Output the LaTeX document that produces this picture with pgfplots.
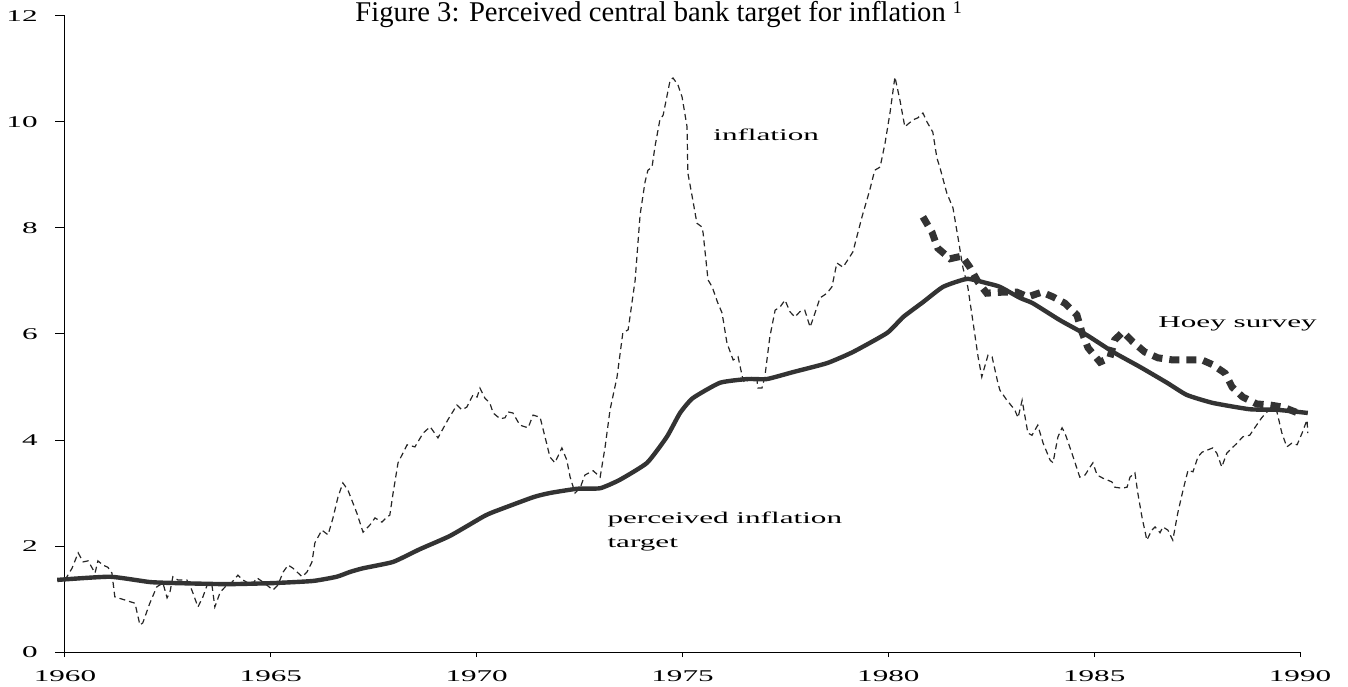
\documentclass[border=0pt]{standalone}
\usepackage{fontspec}
\setmainfont{Liberation Serif}
\newfontfamily\chartfont[FakeStretch=1.9]{Liberation Serif}
\usepackage{pgfplots}
\pgfplotsset{compat=1.18}
\definecolor{dk}{HTML}{333333}
\begin{document}
\begin{tikzpicture}
\path[use as bounding box] (-32.5pt,-17pt) rectangle (641.5pt,326pt);
\begin{axis}[
  at={(0,0)}, anchor=south west,
  width=617.5pt, height=318pt, scale only axis,
  xmin=1960, xmax=1990, ymin=0, ymax=12,
  enlargelimits=false, clip=false,
  axis x line=bottom, axis y line=left,
  axis line style={-, black, line width=0.5pt},
  xtick={1960,1965,...,1990}, ytick={0,2,...,12},
  minor tick num=0,
  tick align=outside,
  major tick length=5pt,
  tick style={black, line width=0.5pt},
  xtick style={/pgfplots/major tick length=2.5pt},
  /pgf/number format/assume math mode=true,
  /pgf/number format/1000 sep={},
  tick label style={font=\chartfont\fontsize{8.2}{10}\selectfont},
  yticklabel style={anchor=east, inner sep=0pt, xshift=-8.5pt},
  xticklabel style={anchor=north, inner sep=0pt, yshift=-4pt},
]
\addplot[black!85, line width=0.6pt, dash pattern=on 3pt off 2pt] coordinates {
(1960.00,1.36)(1960.17,1.58)(1960.32,1.87)(1960.44,1.70)(1960.56,1.72)(1960.73,1.49)(1960.80,1.72)(1960.92,1.64)
(1961.04,1.60)(1961.14,1.49)(1961.21,1.04)(1961.46,0.98)(1961.70,0.92)(1961.82,0.51)(1961.89,0.55)(1962.06,0.92)
(1962.23,1.23)(1962.38,1.30)(1962.48,1.02)(1962.55,1.13)(1962.62,1.42)(1962.74,1.36)(1962.96,1.36)(1963.08,1.17)
(1963.23,0.85)(1963.35,1.04)(1963.47,1.30)(1963.57,1.26)(1963.64,0.85)(1963.77,1.13)(1963.93,1.26)(1964.06,1.32)
(1964.20,1.45)(1964.32,1.36)(1964.54,1.26)(1964.66,1.40)(1964.81,1.32)(1965.05,1.17)(1965.17,1.26)(1965.30,1.51)
(1965.42,1.64)(1965.54,1.58)(1965.76,1.42)(1965.88,1.51)(1966.00,1.70)(1966.07,2.06)(1966.24,2.30)(1966.39,2.21)
(1966.51,2.53)(1966.63,2.92)(1966.75,3.19)(1966.87,3.06)(1967.09,2.62)(1967.24,2.26)(1967.41,2.40)(1967.53,2.53)
(1967.70,2.45)(1967.82,2.55)(1967.89,2.58)(1967.97,3.00)(1968.09,3.57)(1968.31,3.91)(1968.50,3.87)(1968.70,4.13)
(1968.87,4.25)(1969.06,4.04)(1969.30,4.38)(1969.52,4.66)(1969.64,4.57)(1969.76,4.62)(1969.91,4.85)(1970.01,4.81)
(1970.08,4.98)(1970.20,4.79)(1970.32,4.70)(1970.40,4.51)(1970.57,4.40)(1970.69,4.42)(1970.76,4.53)(1970.88,4.51)
(1971.05,4.28)(1971.25,4.23)(1971.37,4.47)(1971.54,4.43)(1971.66,4.06)(1971.78,3.68)(1971.90,3.57)(1972.07,3.85)
(1972.19,3.62)(1972.27,3.30)(1972.39,3.00)(1972.51,3.09)(1972.63,3.34)(1972.83,3.42)(1973.00,3.30)(1973.12,3.87)
(1973.24,4.57)(1973.41,5.19)(1973.55,6.02)(1973.68,6.08)(1973.85,7.02)(1973.97,8.25)(1974.09,8.87)(1974.16,9.09)
(1974.26,9.15)(1974.33,9.53)(1974.45,10.04)(1974.53,10.13)(1974.70,10.79)(1974.77,10.83)(1974.89,10.70)(1974.99,10.47)
(1975.11,9.91)(1975.13,9.04)(1975.25,8.53)(1975.35,8.09)(1975.47,8.02)(1975.50,7.91)(1975.62,7.02)(1975.72,6.89)
(1975.86,6.58)(1975.96,6.40)(1976.08,5.83)(1976.23,5.51)(1976.35,5.57)(1976.47,5.13)(1976.52,5.08)(1976.69,5.19)
(1976.81,5.13)(1976.83,4.98)(1976.93,4.98)(1977.00,5.19)(1977.12,5.94)(1977.25,6.45)(1977.37,6.51)(1977.49,6.64)
(1977.61,6.42)(1977.73,6.32)(1977.85,6.42)(1977.97,6.45)(1978.10,6.13)(1978.22,6.40)(1978.34,6.68)(1978.51,6.77)
(1978.63,6.89)(1978.75,7.34)(1978.90,7.26)(1979.14,7.55)(1979.36,8.21)(1979.55,8.72)(1979.67,9.09)(1979.80,9.15)
(1979.92,9.60)(1980.04,10.17)(1980.16,10.85)(1980.28,10.42)(1980.40,9.91)(1980.60,10.04)(1980.72,10.08)(1980.84,10.17)
(1980.94,10.00)(1981.08,9.81)(1981.18,9.32)(1981.25,9.15)(1981.42,8.66)(1981.57,8.38)(1981.69,7.83)(1981.81,7.26)
(1981.93,6.89)(1982.05,6.26)(1982.18,5.57)(1982.27,5.19)(1982.42,5.60)(1982.52,5.57)(1982.66,5.08)(1982.71,4.94)
(1982.88,4.75)(1983.07,4.57)(1983.15,4.42)(1983.25,4.75)(1983.39,4.13)(1983.49,4.09)(1983.63,4.28)(1983.76,3.94)
(1983.93,3.62)(1984.00,3.57)(1984.12,4.06)(1984.22,4.23)(1984.29,4.13)(1984.46,3.75)(1984.65,3.30)(1984.78,3.34)
(1984.90,3.49)(1984.97,3.57)(1985.07,3.34)(1985.21,3.28)(1985.43,3.21)(1985.50,3.11)(1985.67,3.09)(1985.80,3.11)
(1985.87,3.30)(1985.99,3.38)(1986.06,3.00)(1986.16,2.55)(1986.28,2.11)(1986.40,2.30)(1986.48,2.36)(1986.60,2.25)
(1986.67,2.36)(1986.79,2.30)(1986.91,2.11)(1987.03,2.62)(1987.16,3.06)(1987.28,3.43)(1987.40,3.40)(1987.52,3.68)
(1987.62,3.77)(1987.88,3.85)(1987.98,3.75)(1988.10,3.49)(1988.22,3.75)(1988.35,3.85)(1988.47,3.94)(1988.54,4.00)
(1988.61,4.06)(1988.78,4.09)(1988.90,4.23)(1989.07,4.42)(1989.20,4.53)(1989.32,4.60)(1989.44,4.53)(1989.56,4.13)
(1989.68,3.87)(1989.80,3.94)(1989.93,3.91)(1990.05,4.13)(1990.17,4.38)(1990.19,4.13)
};
\addplot[dk, line width=2.2pt, smooth, tension=0.3] coordinates {
(1959.81,1.36)(1961.09,1.42)(1962.06,1.32)(1962.72,1.30)(1963.93,1.28)(1965.05,1.30)(1966.02,1.34)(1966.60,1.42)
(1966.92,1.51)(1967.24,1.58)(1967.97,1.70)(1968.62,1.94)(1969.35,2.19)(1970.15,2.55)(1970.40,2.64)(1971.37,2.92)
(1971.78,3.00)(1972.44,3.08)(1973.00,3.09)(1973.48,3.25)(1974.14,3.57)(1974.62,4.06)(1974.94,4.51)(1975.25,4.79)
(1975.91,5.08)(1976.57,5.15)(1977.05,5.15)(1977.68,5.28)(1978.51,5.45)(1979.14,5.66)(1979.97,6.02)(1980.36,6.32)
(1980.84,6.60)(1981.33,6.89)(1981.91,7.04)(1982.39,6.96)(1982.71,6.89)(1983.20,6.68)(1983.51,6.58)(1984.17,6.26)
(1984.82,5.98)(1985.46,5.66)(1986.11,5.38)(1986.77,5.08)(1987.25,4.85)(1987.88,4.70)(1988.78,4.58)(1989.44,4.57)
(1990.19,4.51)
};
\addplot[dk, line width=3.5pt, dash pattern=on 5pt off 3.5pt] coordinates {
(1980.84,8.21)(1981.06,7.92)(1981.20,7.62)(1981.50,7.42)(1981.79,7.47)(1981.98,7.26)(1982.18,6.98)(1982.39,6.77)
(1982.78,6.79)(1983.12,6.79)(1983.39,6.70)(1983.73,6.79)(1984.00,6.70)(1984.29,6.58)(1984.58,6.36)(1984.70,6.04)
(1984.85,5.74)(1985.14,5.47)(1985.38,5.55)(1985.50,5.89)(1985.70,6.04)(1985.94,5.85)(1986.23,5.66)(1986.55,5.55)
(1986.91,5.51)(1987.25,5.51)(1987.62,5.51)(1987.88,5.42)(1988.18,5.26)(1988.35,5.00)(1988.61,4.81)(1988.95,4.68)
(1989.27,4.66)(1989.59,4.62)(1989.95,4.51)
};
\node[anchor=base west, inner sep=0pt, font=\chartfont\fontsize{8.2}{10}\selectfont] at (axis cs:1975.74,9.66) {inflation};
\node[anchor=base west, inner sep=0pt, font=\chartfont\fontsize{8.2}{10}\selectfont] at (axis cs:1973.17,2.43) {perceived inflation};
\node[anchor=base west, inner sep=0pt, font=\chartfont\fontsize{8.2}{10}\selectfont] at (axis cs:1973.17,1.98) {target};
\node[anchor=base west, inner sep=0pt, font=\chartfont\fontsize{8.2}{10}\selectfont] at (axis cs:1986.55,6.13) {Hoey survey};
\end{axis}
\node[anchor=base west, inner sep=0pt, font=\fontsize{14.3}{17}\selectfont] at (145pt,315pt) {Figure 3: Perceived central bank target for inflation \raisebox{4pt}{\fontsize{9}{9}\selectfont 1}};
\end{tikzpicture}
\end{document}
